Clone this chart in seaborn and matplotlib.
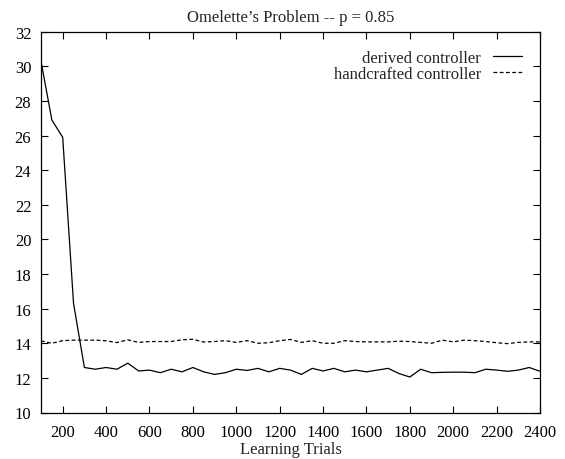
import numpy as np
import pandas as pd
import matplotlib
matplotlib.use("Agg")
import matplotlib.pyplot as plt
import seaborn as sns

trials = list(range(100, 2401, 50))
derived = [30.3, 26.9, 25.9, 16.3, 12.6, 12.5, 12.6, 12.5, 12.85, 12.4,
           12.45, 12.3, 12.5, 12.35, 12.6, 12.35, 12.2, 12.3, 12.5, 12.43,
           12.55, 12.35, 12.55, 12.45, 12.2, 12.55, 12.4, 12.55, 12.35, 12.45,
           12.35, 12.45, 12.55, 12.25, 12.05, 12.5, 12.3, 12.32, 12.33, 12.33,
           12.3, 12.5, 12.45, 12.38, 12.45, 12.6, 12.38]
handcrafted = [14.14, 14.0, 14.15, 14.18, 14.18, 14.18, 14.14, 14.04, 14.2, 14.05,
               14.1, 14.1, 14.1, 14.2, 14.23, 14.07, 14.1, 14.15, 14.05, 14.15,
               14.0, 14.03, 14.15, 14.22, 14.05, 14.15, 14.0, 14.0, 14.15, 14.1,
               14.08, 14.08, 14.08, 14.12, 14.1, 14.05, 14.0, 14.18, 14.08, 14.18,
               14.15, 14.1, 14.03, 13.98, 14.05, 14.08, 14.08]
labels = ["derived controller", "handcrafted controller"]
title = "Omelette\u2019s Problem -- p = 0.85"
xlabel = "Learning Trials"
xticks = list(range(200, 2401, 200))
yticks = list(range(10, 33, 2))

df = pd.DataFrame({
    "trials": trials * 2,
    "value": derived + handcrafted,
    "series": [labels[0]] * len(trials) + [labels[1]] * len(trials),
})

sns.set_theme(style="ticks")
plt.rcParams["font.family"] = ["Liberation Serif", "DejaVu Serif"]
FS = 12

fig = plt.figure(figsize=(5.65, 4.6), dpi=100)
ax = fig.add_axes([41 / 565, 1 - 413.5 / 460, (540 - 41) / 565, (413.5 - 32.7) / 460])

sns.lineplot(data=df, x="trials", y="value", hue="series", style="series",
             palette=["black", "black"], dashes=[(None, None), (3, 2)],
             linewidth=0.9, ax=ax, legend=True)

ax.set_xlim(100, 2400)
ax.set_ylim(10, 32)
ax.set_xticks(xticks)
ax.set_yticks(yticks)
ax.set_xticklabels([str(t) for t in xticks], fontsize=FS)
ax.set_yticklabels([str(t) for t in yticks], fontsize=FS)
ax.tick_params(direction="in", length=5, width=0.8, top=True, right=True,
               colors="black")
ax.tick_params(axis="x", pad=8)
ax.tick_params(axis="y", pad=7)
for s in ax.spines.values():
    s.set_visible(True)
    s.set_linewidth(0.9)
    s.set_color("black")
ax.set_xlabel(xlabel, fontsize=FS, labelpad=1)
ax.set_ylabel("")
ax.set_title(title, fontsize=FS, pad=8)

leg = ax.legend(loc="upper right", frameon=False, markerfirst=False,
                fontsize=FS, handlelength=1.7, handletextpad=0.75,
                labelspacing=0.0, borderaxespad=0.7)

fig.savefig("out.png", dpi=100)
